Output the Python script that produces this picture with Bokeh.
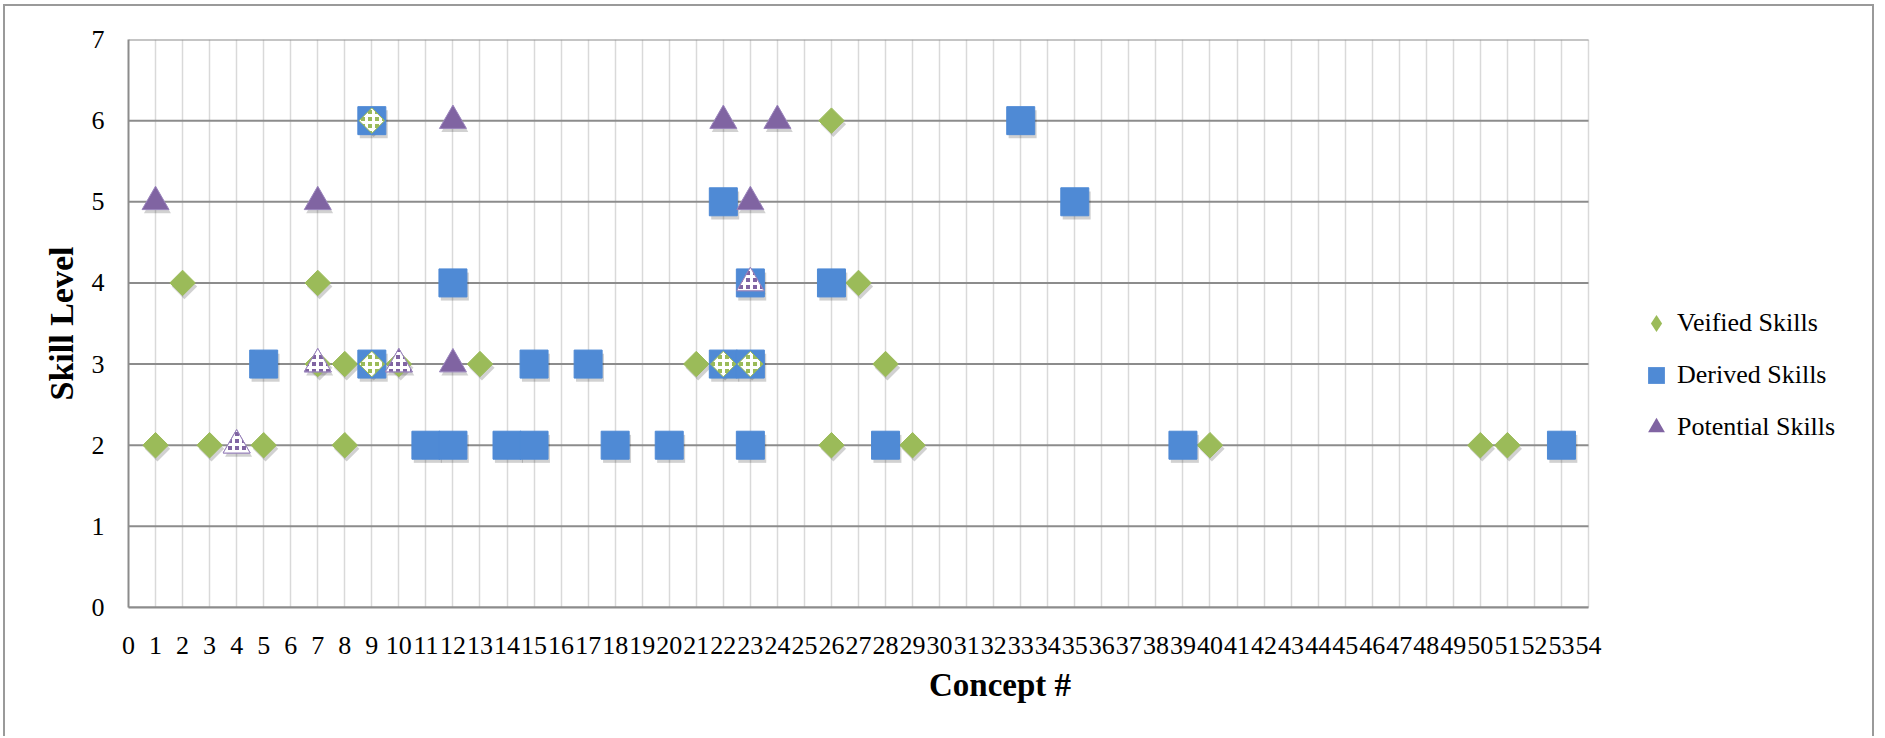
import numpy as np
from bokeh.plotting import figure
from bokeh.models import FixedTicker, Legend, LegendItem, ColumnDataSource, Range1d
from bokeh.transform import dodge
from bokeh.embed import file_html
from bokeh.resources import INLINE

# ---------------- data ----------------
verified_x = [1, 2, 3, 5, 7, 7, 8, 8, 9, 9, 10, 13, 21, 22, 23, 26, 26, 27, 28, 29, 40, 50, 51]
verified_y = [2, 4, 2, 2, 4, 3, 3, 2, 6, 3, 3, 3, 3, 3, 3, 6, 2, 4, 3, 2, 2, 2, 2]
derived_x = [5, 9, 9, 11, 12, 12, 14, 15, 15, 17, 18, 20, 22, 22, 23, 23, 23, 26, 28, 33, 35, 39, 53]
derived_y = [3, 6, 3, 2, 2, 4, 2, 2, 3, 3, 2, 2, 5, 3, 3, 4, 2, 4, 2, 6, 5, 2, 2]
potential_x = [1, 4, 7, 7, 10, 12, 12, 22, 23, 23, 24]
potential_y = [5, 2, 5, 3, 3, 6, 3, 6, 5, 4, 6]
# points shown with a checkered fill (where series coincide)
checkered_verified_x = [9, 9, 22, 23]
checkered_verified_y = [6, 3, 3, 3]
checkered_potential_x = [4, 7, 10, 23]
checkered_potential_y = [2, 3, 3, 4]
x_ticks = list(range(0, 55))
y_ticks = list(range(0, 8))
series_names = ["Veified Skills", "Derived Skills", "Potential Skills"]
x_title = "Concept #"
y_title = "Skill Level"

GREEN = "#9BBB59"
BLUE = "#4F8AD5"
PURPLE = "#8064A2"
FONT = "Liberation Serif"

# layout (pixels)
W, H = 1871, 732
BL, BR, BT, BB = 123, 5, 33, 131
AXIS_PX = 1460  # width of the 0..54 axis
frame_w = W - BL - BR
x_lo, x_hi = x_ticks[0], x_ticks[-1]
x_end = x_lo + (x_hi - x_lo) * frame_w / AXIS_PX   # blank room on the right for the legend

src_v = ColumnDataSource(dict(x=verified_x, y=verified_y))
src_d = ColumnDataSource(dict(x=derived_x, y=derived_y))
src_p = ColumnDataSource(dict(x=potential_x, y=potential_y))
src_cv = ColumnDataSource(dict(x=checkered_verified_x, y=checkered_verified_y))
src_cp = ColumnDataSource(dict(x=checkered_potential_x, y=checkered_potential_y))
src_grid = ColumnDataSource(dict(y=y_ticks, x0=[x_lo] * len(y_ticks), x1=[x_hi] * len(y_ticks)))

p = figure(width=W, height=H,
           x_range=Range1d(x_lo, x_end), y_range=Range1d(y_ticks[0], y_ticks[-1]),
           output_backend="svg", toolbar_location=None,
           min_border_left=BL, min_border_right=BR,
           min_border_top=BT, min_border_bottom=BB)
p.styles = {"border-top": "2px solid #9a9a9a",
            "border-left": "2px solid #9a9a9a",
            "border-right": "2px solid #9a9a9a",
            "margin-left": "3px", "margin-top": "4px"}
p.outline_line_color = None
p.background_fill_color = "white"
p.border_fill_color = "white"

# axes
p.xaxis.ticker = FixedTicker(ticks=x_ticks)
p.yaxis.ticker = FixedTicker(ticks=y_ticks)
p.xaxis.bounds = (x_lo, x_hi)
p.xgrid.ticker = FixedTicker(ticks=x_ticks)
p.xgrid.bounds = (x_lo, x_hi)
p.xgrid.grid_line_color = "#D9D9D9"
p.xgrid.grid_line_width = 1.5
p.ygrid.visible = False
for ax in (p.xaxis[0], p.yaxis[0]):
    ax.axis_line_color = "#8C8C8C"
    ax.axis_line_width = 2
    ax.major_tick_line_color = None
    ax.minor_tick_line_color = None
    ax.major_label_text_font = FONT
    ax.major_label_text_font_size = "26px"
    ax.major_label_text_color = "black"
    ax.axis_label_text_font = FONT
    ax.axis_label_text_font_style = "bold"
    ax.axis_label_text_font_size = "33px"
    ax.axis_label_text_color = "black"
p.xaxis.major_label_standoff = 23
p.yaxis.major_label_standoff = 18
p.xaxis.axis_label = x_title
p.yaxis.axis_label = y_title
p.xaxis.axis_label_standoff = 10
p.yaxis.axis_label_standoff = 9
p.yaxis.axis_label_text_font_size = "34px"

# horizontal grid lines limited to the axis extent
p.segment(x0="x0", x1="x1", y0="y", y1="y", source=src_grid,
          line_color="#8C8C8C", line_width=2)

# shadows
for src, mk, sz, ang in ((src_v, "square", 18, np.pi / 4), (src_d, "square", 28, 0), (src_p, "triangle", 27, 0)):
    p.scatter(x=dodge("x", 0.07, range=p.x_range), y=dodge("y", -0.045, range=p.y_range),
              source=src, marker=mk, size=sz, angle=ang,
              fill_color="black", fill_alpha=0.18, line_color=None)

# series
p.scatter("x", "y", source=src_v, marker="square", angle=np.pi / 4, size=18,
          fill_color=GREEN, line_color=GREEN)
p.scatter("x", "y", source=src_d, marker="square", size=28,
          fill_color=BLUE, line_color=BLUE)
p.scatter("x", "y", source=src_p, marker="triangle", size=27,
          fill_color=PURPLE, line_color="#9A84BC")

# checkered overlays
p.scatter("x", "y", source=src_cv, marker="square", angle=np.pi / 4, size=18,
          fill_color=GREEN, line_color=GREEN,
          hatch_pattern="+", hatch_color="white", hatch_weight=3, hatch_scale=7)
p.scatter("x", "y", source=src_cp, marker="triangle", size=27,
          fill_color=PURPLE, line_color="#9A84BC",
          hatch_pattern="+", hatch_color="white", hatch_weight=3, hatch_scale=7)

# legend proxies (zero-size on the plot; the legend draws its own glyph size)
lv = p.scatter("x", "y", source=src_v, marker="diamond", size=0, fill_color=GREEN, line_color=None)
ld = p.scatter("x", "y", source=src_d, marker="square", size=0, fill_color=BLUE, line_color=None)
lp = p.scatter("x", "y", source=src_p, marker="triangle", size=0, fill_color=PURPLE, line_color=None)
legend = Legend(items=[LegendItem(label=series_names[0], renderers=[lv]),
                       LegendItem(label=series_names[1], renderers=[ld]),
                       LegendItem(label=series_names[2], renderers=[lp])],
                location=(1507, 159), glyph_width=42, glyph_height=42,
                spacing=10, padding=0, margin=0, label_standoff=0,
                label_text_font=FONT, label_text_font_size="26px",
                label_text_color="black", label_height=42,
                border_line_color=None, background_fill_alpha=0)
p.add_layout(legend, "center")

open("out.html", "w").write(file_html(p, INLINE))
